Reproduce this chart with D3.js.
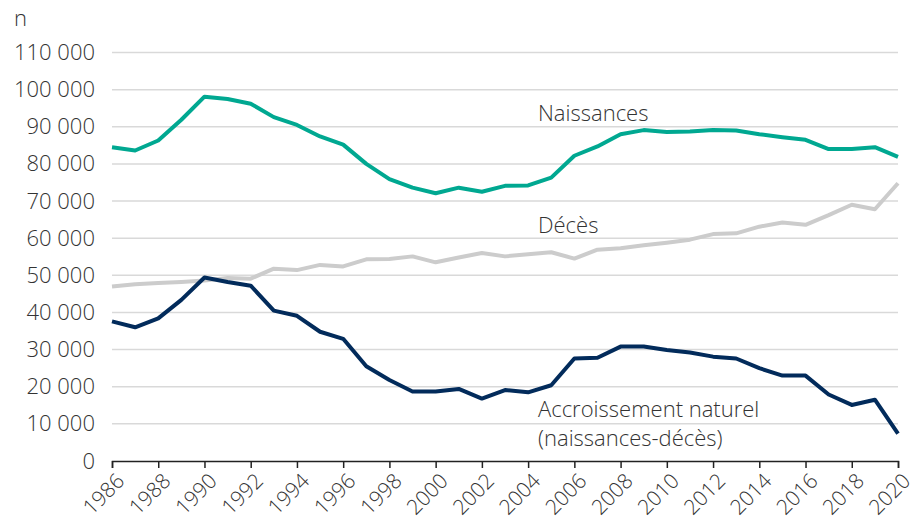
<!DOCTYPE html>
<html>
<head>
<meta charset="utf-8">
<script src="https://cdn.jsdelivr.net/npm/d3@7"></script>
<style>
  body { margin: 0; background: #fff; }
  text { font-family: "Open Sans", sans-serif; font-weight: 300; fill: #333; }
</style>
</head>
<body>
<div id="chart"></div>
<script>
var years = d3.range(1986, 2021);

var naissances = [84.5, 83.6, 86.3, 91.9, 98.1, 97.5, 96.2, 92.6, 90.5, 87.4,
                  85.2, 80.0, 75.9, 73.6, 72.1, 73.6, 72.5, 74.1, 74.2, 76.3,
                  82.2, 84.7, 88.0, 89.1, 88.6, 88.7, 89.1, 89.0, 88.0, 87.2,
                  86.5, 84.0, 84.0, 84.5, 81.9];

var deces = [47.0, 47.6, 47.9, 48.2, 48.6, 49.3, 49.1, 51.8, 51.4, 52.8,
             52.4, 54.3, 54.4, 55.1, 53.5, 54.8, 56.0, 55.1, 55.7, 56.2,
             54.5, 56.9, 57.3, 58.1, 58.8, 59.6, 61.1, 61.3, 63.1, 64.2,
             63.6, 66.2, 69.0, 67.8, 74.8];

var accroissement = [37.6, 36.0, 38.4, 43.4, 49.4, 48.2, 47.2, 40.5, 39.1, 34.8,
                     32.9, 25.5, 21.8, 18.7, 18.7, 19.4, 16.8, 19.1, 18.5, 20.4,
                     27.6, 27.8, 30.8, 30.85, 29.9, 29.2, 28.1, 27.6, 25.0, 23.0,
                     23.0, 17.9, 15.1, 16.5, 7.4];

var yTicks = d3.range(0, 110001, 10000);
var xTicks = d3.range(1986, 2021, 2);

var series = [
  {name: "naissances", values: naissances, color: "#00a891"},
  {name: "deces", values: deces, color: "#cccccc"},
  {name: "accroissement", values: accroissement, color: "#022b5b"}
];

var W = 915, H = 525;
var margin = {top: 52.5, right: 17, bottom: 64, left: 112};
var width = W - margin.left - margin.right,
    height = H - margin.top - margin.bottom;

var svg = d3.select("#chart").append("svg")
    .attr("width", W)
    .attr("height", H);

var g = svg.append("g")
    .attr("transform", "translate(" + margin.left + "," + margin.top + ")");

var x = d3.scaleLinear().domain([1986, 2020]).range([0, width]);
var y = d3.scaleLinear().domain([0, 110000]).range([height, 0]);

// grid
g.selectAll(".grid")
    .data(yTicks.filter(function(d) { return d > 0; }))
  .enter().append("line")
    .attr("class", "grid")
    .attr("x1", 0)
    .attr("x2", width)
    .attr("y1", function(d) { return y(d); })
    .attr("y2", function(d) { return y(d); })
    .style("stroke", "#d9d9d9")
    .style("stroke-width", 1.5);

// y labels
var fmt = function(d) { return d3.format(",")(d).replace(/,/g, "\u00a0"); };
var yAxis = d3.axisLeft(y).tickValues(yTicks).tickSize(0).tickPadding(17).tickFormat(fmt);
g.append("g")
    .call(yAxis)
    .call(function(s) { s.select(".domain").remove(); })
    .selectAll("text")
    .style("font-size", "22px")
    .style("fill", "#333");

// x axis
var xAxis = d3.axisBottom(x).tickValues(xTicks).tickSize(7).tickFormat(d3.format("d"));
var xg = g.append("g")
    .attr("transform", "translate(0," + height + ")")
    .call(xAxis);
xg.select(".domain").style("stroke", "#222").style("stroke-width", 1.5);
xg.selectAll(".tick line").style("stroke", "#222").style("stroke-width", 1.5);
xg.selectAll("text")
    .style("font-size", "21px")
    .style("fill", "#333")
    .style("text-anchor", "end")
    .attr("x", 0)
    .attr("y", 0)
    .attr("dy", "0.35em")
    .attr("transform", "translate(8,16) rotate(-45)");

// lines
var line = d3.line()
    .x(function(d, i) { return x(years[i]); })
    .y(function(d) { return y(d * 1000); });

g.selectAll(".serie")
    .data(series)
  .enter().append("path")
    .attr("class", "serie")
    .attr("d", function(d) { return line(d.values); })
    .style("fill", "none")
    .style("stroke", function(d) { return d.color; })
    .style("stroke-width", 4)
    .style("stroke-linejoin", "round");

// labels
svg.append("text").attr("x", 14).attr("y", 26).style("font-size", "22px").text("n");

var labels = [
  {t: "Naissances", y: 121},
  {t: "Décès", y: 233},
  {t: "Accroissement naturel", y: 417},
  {t: "(naissances-décès)", y: 446}
];
svg.selectAll(".lab")
    .data(labels)
  .enter().append("text")
    .attr("class", "lab")
    .attr("x", 538)
    .attr("y", function(d) { return d.y; })
    .style("font-size", "22px")
    .text(function(d) { return d.t; });
</script>
</body>
</html>
